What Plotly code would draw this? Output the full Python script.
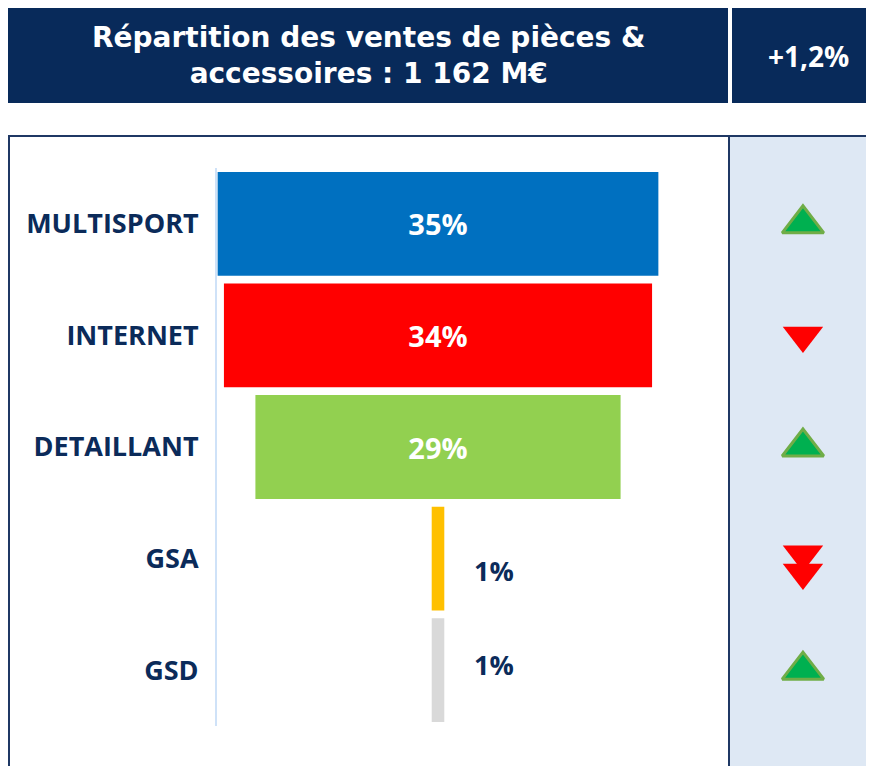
import plotly.graph_objects as go

# ---- data ----
categories = ["MULTISPORT", "INTERNET", "DETAILLANT", "GSA", "GSD"]
shares = [35, 34, 29, 1, 1]
trend = ["up", "down", "up", "down2", "up"]
title_text = "Répartition des ventes de pièces &<br>accessoires : 1 162 M€"
growth_text = "+1,2%"

# ---- styles ----
bar_colors = ["#0070C0", "#FF0000", "#92D050", "#FFC000", "#D9D9D9"]
NAVY = "#0B2B5A"
OFF = 8            # page body margin
W, H = 874, 766 - OFF
FONT = "Open Sans"
TFONT = "DejaVu Sans"


def px_x(px):
    return (px - OFF) / W


def px_y(py):
    return 1 - (py - OFF) / H


fig = go.Figure()

label_text = [f"{v}%" for v in shares]
positions = ["inside" if v >= 5 else "none" for v in shares]

fig.add_trace(go.Funnel(
    y=categories,
    x=shares,
    text=label_text,
    textinfo="text",
    textposition=positions,
    constraintext="none",
    insidetextfont=dict(color="white", size=29, family=FONT, weight="bold"),
    marker=dict(color=bar_colors, line=dict(width=0)),
    connector=dict(visible=False),
    xaxis="x", yaxis="y",
    hoverinfo="y+text",
))

# small-value labels placed to the right of their bars
small_yshift = {3: -12, 4: 6}
for i, (c, v) in enumerate(zip(categories, shares)):
    if v < 5:
        fig.add_annotation(
            x=v / 2, y=c, xref="x", yref="y", text=f"{v}%",
            showarrow=False, xanchor="left", xshift=28,
            yshift=small_yshift.get(i, 0),
            font=dict(color=NAVY, size=27, family=FONT, weight="bold"),
        )

# trend indicators in the right column
idx = list(range(len(categories)))
up_y = [i for i, t in zip(idx, trend) if t == "up"]
down_y = [i for i, t in zip(idx, trend) if t == "down"]
down2_y = [i for i, t in zip(idx, trend) if t == "down2"]

fig.add_trace(go.Scatter(
    x=[0.48] * len(up_y), y=up_y, mode="markers", xaxis="x2", yaxis="y2",
    marker=dict(symbol="triangle-up", size=36, color="#00B050",
                line=dict(color="#70AD47", width=3)),
    hoverinfo="skip", showlegend=False,
))
fig.add_trace(go.Scatter(
    x=[0.48] * len(down_y), y=down_y, mode="markers", xaxis="x2", yaxis="y2",
    marker=dict(symbol="triangle-down", size=35, color="#FF0000"),
    hoverinfo="skip", showlegend=False,
))
for off in (-0.04, 0.125):
    fig.add_trace(go.Scatter(
        x=[0.48] * len(down2_y), y=[v + off for v in down2_y], mode="markers",
        xaxis="x2", yaxis="y2",
        marker=dict(symbol="triangle-down", size=35, color="#FF0000"),
        hoverinfo="skip", showlegend=False,
    ))

n = len(categories)
shapes = [
    # header boxes
    dict(type="rect", xref="paper", yref="paper", layer="below",
         x0=px_x(8), x1=px_x(728), y0=px_y(103), y1=px_y(8),
         fillcolor="#082A5A", line=dict(width=0)),
    dict(type="rect", xref="paper", yref="paper", layer="below",
         x0=px_x(732), x1=1, y0=px_y(103), y1=px_y(8),
         fillcolor="#082A5A", line=dict(width=0)),
    # right light-blue panel
    dict(type="rect", xref="paper", yref="paper", layer="below",
         x0=px_x(729), x1=1, y0=0, y1=px_y(135),
         fillcolor="#DEE8F4", line=dict(width=0)),
    # outer panel border
    dict(type="line", xref="paper", yref="paper", layer="below",
         x0=px_x(8), x1=1, y0=px_y(136), y1=px_y(136),
         line=dict(color="#1F3864", width=2)),
    dict(type="line", xref="paper", yref="paper", layer="below",
         x0=px_x(9), x1=px_x(9), y0=0, y1=px_y(136),
         line=dict(color="#1F3864", width=2)),
    # divider line
    dict(type="line", xref="paper", yref="paper", layer="below",
         x0=px_x(729), x1=px_x(729), y0=0, y1=px_y(136),
         line=dict(color="#1F3864", width=2)),
]

annotations_hdr = [
    dict(x=px_x(368), y=px_y(55), xref="paper", yref="paper", text=title_text,
         showarrow=False, xanchor="center", yanchor="middle",
         font=dict(color="white", size=28, family=TFONT, weight="bold")),
    dict(x=px_x(808), y=px_y(56), xref="paper", yref="paper", text=growth_text,
         showarrow=False, xanchor="center", yanchor="middle",
         font=dict(color="white", size=28, family=FONT, weight="bold")),
]
for a in annotations_hdr:
    fig.add_annotation(**a)

fig.update_layout(
    width=W, height=H,
    margin=dict(l=0, r=0, t=0, b=0),
    paper_bgcolor="white", plot_bgcolor="rgba(0,0,0,0)",
    showlegend=False,
    funnelgap=0.07,
    shapes=shapes,
    xaxis=dict(domain=[px_x(217), px_x(659)], range=[-17.55, 17.55],
               visible=False, fixedrange=True),
    yaxis=dict(domain=[px_y(726), px_y(168)], type="category",
               categoryorder="array", categoryarray=categories,
               range=[n - 0.5, -0.5], showline=True, linecolor="#CFE2F8",
               linewidth=2, showgrid=False, zeroline=False, ticks="",
               ticklabelstandoff=11,
               tickfont=dict(color=NAVY, size=27, family=FONT, weight="bold")),
    xaxis2=dict(domain=[px_x(730), 1], range=[0, 1], visible=False,
                anchor="y2"),
    yaxis2=dict(domain=[px_y(726), px_y(168)], range=[n - 0.5, -0.5],
                visible=False, anchor="x2"),
)

fig.write_html("out.html")
